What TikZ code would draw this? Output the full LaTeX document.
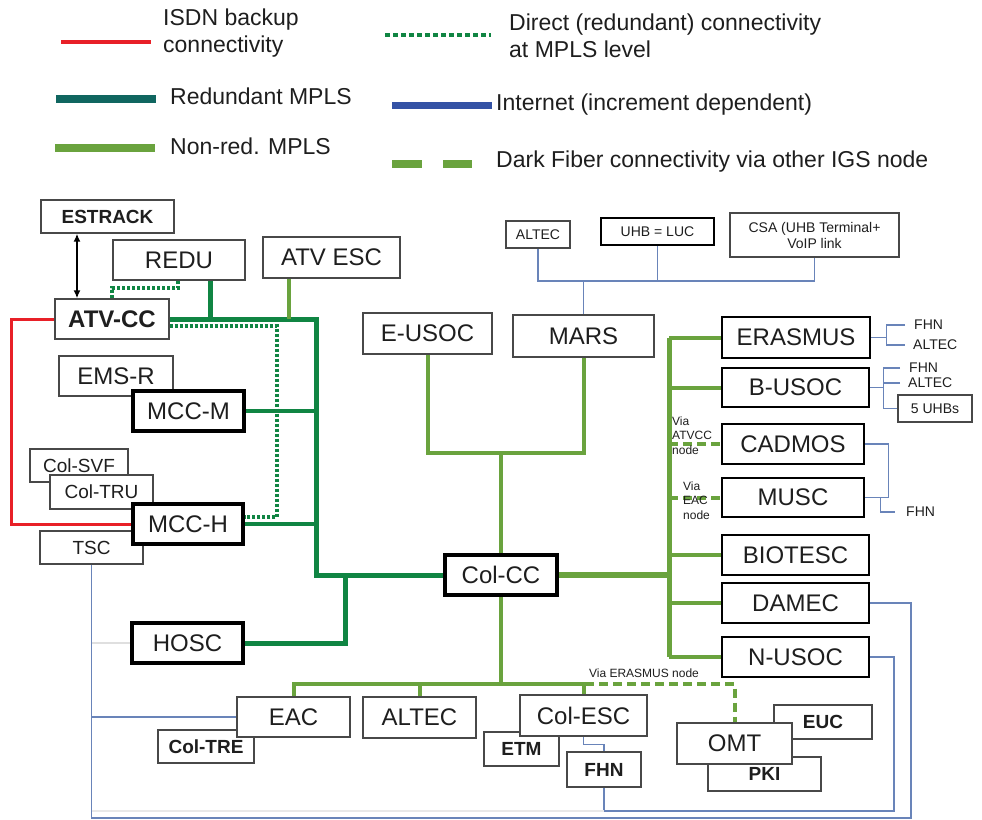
\documentclass[tikz,border=0pt]{standalone}
\usepackage{fontspec}
\setmainfont{Liberation Sans}
\usetikzlibrary{arrows.meta,backgrounds}
\definecolor{isdnC}{RGB}{232,32,40}
\definecolor{rgC}{RGB}{16,133,67}
\definecolor{tealC}{RGB}{16,102,96}
\definecolor{nrC}{RGB}{106,163,62}
\definecolor{inC}{RGB}{105,132,185}
\definecolor{inL}{RGB}{52,82,165}
\definecolor{bxC}{RGB}{72,72,72}
\definecolor{txC}{RGB}{30,30,30}
\begin{document}
\begin{tikzpicture}[x=1pt,y=-1pt,
  f24/.style={font=\fontsize{24}{28}\selectfont},
  f24b/.style={font=\fontsize{24}{28}\selectfont\bfseries},
  f23/.style={font=\fontsize{23}{27}\selectfont},
  f19/.style={font=\fontsize{19}{22}\selectfont},
  f19b/.style={font=\fontsize{19}{22}\selectfont\bfseries},
  f14/.style={font=\fontsize{14}{16}\selectfont},
  f12/.style={font=\fontsize{12}{14.5}\selectfont},
  box/.style={draw=bxC, line width=1.3pt, fill=white, inner sep=0pt, text=txC},
  tbox/.style={draw=black, line width=4pt, fill=white, inner sep=0pt, text=txC},
  sz/.style 2 args={minimum width=#1pt, minimum height=#2pt},
  lbl/.style={inner sep=0pt, text=txC, anchor=west},
  isdn/.style={isdnC, line width=3pt},
  redm/.style={rgC, line width=5pt},
  redmt/.style={rgC, line width=4pt},
  dotR/.style={rgC, line width=4pt, dash pattern=on 3pt off 2pt},
  nonr/.style={nrC, line width=4pt},
  dfib/.style={nrC, line width=4pt, dash pattern=on 9pt off 5pt},
  inet/.style={inC, line width=1.2pt}
]
\useasboundingbox (0,0) rectangle (982,819);

% ---------- legend ----------
\coordinate (l1a) at (61,42);  \coordinate (l1b) at (151,42);
\coordinate (l2a) at (56,99);  \coordinate (l2b) at (156,99);
\coordinate (l3a) at (55,148); \coordinate (l3b) at (155,148);
\coordinate (l4a) at (385,35); \coordinate (l4b) at (491,35);
\coordinate (l5a) at (392,105);\coordinate (l5b) at (492,105);
\coordinate (l6a) at (392,164);\coordinate (l6b) at (472,164);
\draw[isdnC, line width=4pt] (l1a) -- (l1b);
\draw[tealC, line width=8pt] (l2a) -- (l2b);
\draw[nrC, line width=8pt] (l3a) -- (l3b);
\draw[rgC, line width=4pt, dash pattern=on 5pt off 3pt] (l4a) -- (l4b);
\draw[inL, line width=7pt] (l5a) -- (l5b);
\draw[nrC, line width=8pt, dash pattern=on 30pt off 21pt] (l6a) -- (l6b);
\node[lbl, f23, align=left] (t1) at (163,33.5) {ISDN backup\\connectivity};
\node[lbl, f23] (t2) at (170,96) {Redundant MPLS};
\node[lbl, f23] (t3) at (170,146) {Non-red. MPLS};
\node[lbl, f23, align=left] (t4) at (509,36) {Direct (redundant) connectivity\\at MPLS level};
\node[lbl, f23] (t5) at (496,105) {Internet (increment dependent)};
\node[lbl, f23] (t6) at (496,162) {Dark Fiber connectivity via other IGS node};

% ---------- nodes ----------
\node[box, f19b, sz={133}{33}] (ESTRACK) at (107.5,216.5) {ESTRACK};
\node[box, f24, sz={132}{40}] (REDU) at (179,260) {REDU};
\node[box, f24, sz={137}{41}] (ATVESC) at (331.5,257.5) {ATV ESC};
\node[box, f24b, sz={114}{40}] (ATVCC) at (112,319) {ATV-CC};
\node[box, f24, sz={114}{40}] (EMSR) at (116,376) {EMS-R};
\node[tbox, f24, sz={111}{40}] (MCCM) at (188.5,411) {MCC-M};
\node[box, f19, sz={98}{33}] (ColSVF) at (79,465.5) {Col-SVF};
\node[box, f19, sz={103}{34}] (ColTRU) at (101.5,492) {Col-TRU};
\node[box, f19, sz={103}{33}] (TSC) at (91.5,547.5) {TSC};
\node[tbox, f24, sz={110}{40}] (MCCH) at (188,524) {MCC-H};
\node[tbox, f24, sz={111}{40}] (HOSC) at (187.5,643) {HOSC};
\node[box, f24, sz={129}{41}] (EUSOC) at (427.5,333.5) {E-USOC};
\node[box, f24, sz={141}{42}] (MARS) at (583.5,336) {MARS};
\node[tbox, f24, sz={112}{40}] (ColCC) at (501,575) {Col-CC};
\node[box, f14, sz={64}{27}] (ALTECt) at (538,234.5) {ALTEC};
\node[box, f14, sz={113}{27}, draw=black] (UHB) at (657.5,231.5) {UHB = LUC};
\node[box, f14, sz={169}{44}, align=center] (CSA) at (814.5,235) {CSA (UHB Terminal+\\VoIP link};
\node[box, f24, sz={148}{41}, draw=black] (ERASMUS) at (796,337.5) {ERASMUS};
\node[box, f24, sz={147}{39}, draw=black] (BUSOC) at (795.5,387.5) {B-USOC};
\node[box, f14, sz={74}{27}] (UHB5) at (935,408.5) {5 UHBs};
\node[box, f24, sz={142}{40}, draw=black] (CADMOS) at (793,444) {CADMOS};
\node[box, f24, sz={142}{39}, draw=black] (MUSC) at (793,497.5) {MUSC};
\node[box, f24, sz={147}{40}, draw=black] (BIOTESC) at (795.5,555) {BIOTESC};
\node[box, f24, sz={147}{40}, draw=black] (DAMEC) at (795.5,603) {DAMEC};
\node[box, f24, sz={147}{40}, draw=black] (NUSOC) at (795.5,657) {N-USOC};
\node[box, f19b, sz={96}{33}] (ColTRE) at (206,746.5) {Col-TRE};
\node[box, f24, sz={113}{40}] (EAC) at (293.5,717) {EAC};
\node[box, f24, sz={113}{41}] (ALTECb) at (419.5,717.5) {ALTEC};
\node[box, f19b, sz={75}{34}] (ETM) at (521.5,749) {ETM};
\node[box, f24, sz={127}{41}] (ColESC) at (583.5,715.5) {Col-ESC};
\node[box, f19b, sz={74}{35}] (FHNb) at (604,769.5) {FHN};
\node[box, f19b, sz={98}{34}] (EUC) at (823,722) {EUC};
\node[box, f19b, sz={113}{34}] (PKI) at (764.5,774) {PKI};
\node[box, f24, sz={115}{41}] (OMT) at (734.5,743.5) {OMT};

% ---------- plain labels ----------
\node[lbl, f14] (fhnA) at (914,325) {FHN};
\node[lbl, f14] (altA) at (913,345) {ALTEC};
\node[lbl, f14] (fhnB) at (909,368) {FHN};
\node[lbl, f14] (altB) at (908,383) {ALTEC};
\node[lbl, f14] (fhnC) at (906,512) {FHN};
\node[lbl, f12, align=left] (viaA) at (672,435.5) {Via\\ATVCC\\node};
\node[lbl, f12, align=left] (viaE) at (683,500.5) {Via\\EAC\\node};
\node[inner sep=0pt, text=txC, f12] (viaR) at (644,673) {Via ERASMUS node};

% ---------- junctions ----------
\coordinate (gR) at (316,0);
\coordinate (jM) at (501,453);
\coordinate (rb) at (669,575);
\coordinate (bb) at (501,684);
\coordinate (tb) at (583.5,281);
\coordinate (ob) at (911,818);
\coordinate (ib) at (894,811);

% ---------- connectors ----------
\begin{scope}[on background layer]
  % internet
  \draw[inet] (ALTECt.south) |- (tb);
  \draw[inet] (UHB.south) |- (tb);
  \draw[inet] (CSA.south) |- (tb);
  \draw[inet] (tb) -- (MARS.north);
  \draw[inet] (ERASMUS.east) -- ++(16,0) coordinate (eb);
  \draw[inet] ([xshift=-9pt]fhnA.west) -| (eb) |- ([xshift=-8pt]altA.west);
  \draw[inet] (BUSOC.east) -- ++(14,0) coordinate (bu);
  \draw[inet] ([xshift=-9pt]fhnB.west) -| (bu) |- (UHB5.west);
  \draw[inet] ([xshift=-8pt]altB.west) -- (altB.west -| bu);
  \draw[inet] (CADMOS.east) -- ++(24,0) |- (MUSC.east);
  \draw[inet] ([xshift=16pt]MUSC.east) |- ([xshift=-11pt]fhnC.west);
  \draw[inet] (DAMEC.east) -| (ob) -| (TSC.south);
  \draw[inet] (NUSOC.east) -| (ib) -| (FHNb.south);
  \draw[gray!18, line width=1.2pt] (ib -| TSC.south) -- (ib -| FHNb.south);
  \draw[inet] (ColESC.south) -- ++(0,8) -| (FHNb.north);
  \draw[inet] (EAC.west) -- (EAC.west -| TSC.south);
  \draw[gray!25, line width=1.2pt] (HOSC.west) -- (HOSC.west -| TSC.south);
  % ISDN
  \draw[isdn] (ATVCC.west) -- ++(-43,0) |- (MCCH.west);
  % redundant MPLS
  \draw[dotR] (ATVCC.north) -- ++(0,-10) -| ([xshift=-1pt]REDU.south);
  \draw[dotR] ([yshift=-7pt]ATVCC.east) -| ([xshift=32pt,yshift=7pt]MCCH.east) -- ([yshift=7pt]MCCH.east);
  \draw[redm] ([xshift=31pt]REDU.south) -- ([xshift=31pt]REDU.south |- ATVCC.east);
  \draw[redm] (ATVCC.east) -| (gR |- ColCC.west) -- (ColCC.west);
  \draw[redmt] (MCCM.east) -- (MCCM.east -| gR);
  \draw[redmt] (MCCH.east) -- (MCCH.east -| gR);
  \draw[redm] (HOSC.east) -| ([xshift=-98pt]ColCC.west);
  % non-redundant MPLS
  \draw[nonr] ([xshift=-42.5pt]ATVESC.south) -- ([xshift=-42.5pt]ATVESC.south |- ATVCC.east);
  \draw[nonr] (EUSOC.south) |- (jM) -| (MARS.south);
  \draw[nonr] (jM) -- (ColCC.north);
  \draw[nrC, line width=6pt] (ColCC.east) -- (rb);
  \draw[nrC, line width=5pt] (ERASMUS.west -| rb) -- (NUSOC.west -| rb);
  \draw[nonr] (ERASMUS.west -| rb) -- (ERASMUS.west);
  \draw[nonr] (BUSOC.west -| rb) -- (BUSOC.west);
  \draw[dfib] (CADMOS.west -| rb) -- (CADMOS.west);
  \draw[dfib] (MUSC.west -| rb) -- (MUSC.west);
  \draw[nonr] (BIOTESC.west -| rb) -- (BIOTESC.west);
  \draw[nonr] (DAMEC.west -| rb) -- (DAMEC.west);
  \draw[nonr] (NUSOC.west -| rb) -- (NUSOC.west);
  \draw[dfib] (bb) -| (OMT.north);
  \draw[nonr] (ColCC.south) -- (bb);
  \draw[nonr] (EAC.north) |- (bb) -| (ColESC.north);
  \draw[nonr] (ALTECb.north) -- (ALTECb.north |- bb);
  % ESTRACK link
  \draw[black, line width=2pt, {Latex[length=8pt,width=7pt]}-{Latex[length=8pt,width=7pt]}]
    ([xshift=-30.5pt]ESTRACK.south) -- ([xshift=-30.5pt]ESTRACK.south |- ATVCC.north);
\end{scope}
\end{tikzpicture}
\end{document}
